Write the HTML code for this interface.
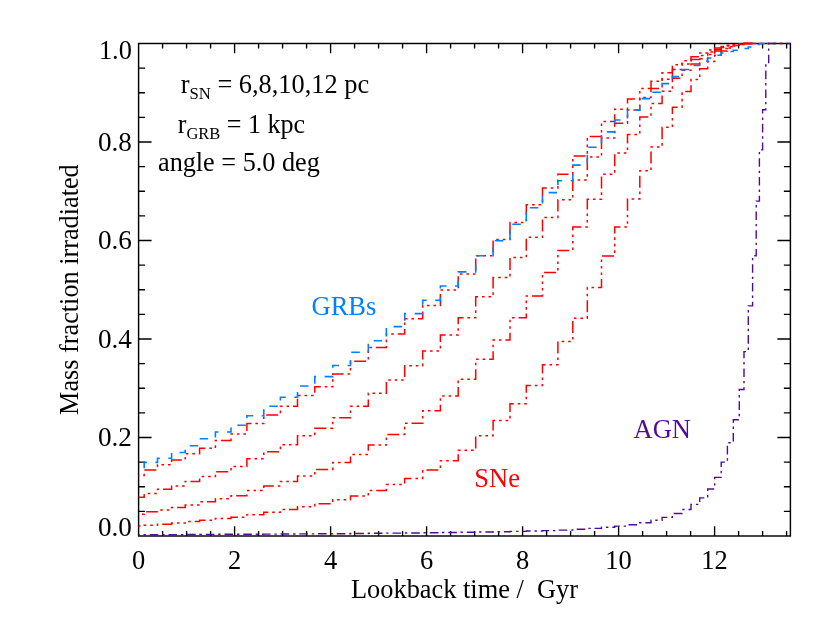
<!DOCTYPE html>
<html><head><meta charset="utf-8"><title>plot</title>
<style>
html,body{margin:0;padding:0;background:#fff;}
body{width:830px;height:624px;overflow:hidden;}
svg{display:block;will-change:transform;}
text{font-family:"Liberation Serif",serif;font-size:26.5px;fill:#000;}
.r{fill:none;stroke:#ff0000;stroke-width:1.5;stroke-dasharray:12 3.9 2.6 3.9 2.6 3.9 2.6 3.9;}
.b{fill:none;stroke:#0080ff;stroke-width:1.6;stroke-dasharray:8.5 8.5;}
.p{fill:none;stroke:#520a98;stroke-width:1.4;stroke-dasharray:8.6 3.9 2.4 3.9;}
</style></head><body>
<svg width="830" height="624" viewBox="0 0 830 624">
<rect width="830" height="624" fill="#fff"/>
<rect x="138.6" y="43.5" width="651.8" height="492.5" fill="none" stroke="#000" stroke-width="1.45"/>
<path d="M162.60 536.0v-4.9M162.60 43.5v4.9M186.60 536.0v-4.9M186.60 43.5v4.9M210.60 536.0v-4.9M210.60 43.5v4.9M234.60 536.0v-9.8M234.60 43.5v9.8M258.60 536.0v-4.9M258.60 43.5v4.9M282.60 536.0v-4.9M282.60 43.5v4.9M306.60 536.0v-4.9M306.60 43.5v4.9M330.60 536.0v-9.8M330.60 43.5v9.8M354.60 536.0v-4.9M354.60 43.5v4.9M378.60 536.0v-4.9M378.60 43.5v4.9M402.60 536.0v-4.9M402.60 43.5v4.9M426.60 536.0v-9.8M426.60 43.5v9.8M450.60 536.0v-4.9M450.60 43.5v4.9M474.60 536.0v-4.9M474.60 43.5v4.9M498.60 536.0v-4.9M498.60 43.5v4.9M522.60 536.0v-9.8M522.60 43.5v9.8M546.60 536.0v-4.9M546.60 43.5v4.9M570.60 536.0v-4.9M570.60 43.5v4.9M594.60 536.0v-4.9M594.60 43.5v4.9M618.60 536.0v-9.8M618.60 43.5v9.8M642.60 536.0v-4.9M642.60 43.5v4.9M666.60 536.0v-4.9M666.60 43.5v4.9M690.60 536.0v-4.9M690.60 43.5v4.9M714.60 536.0v-9.8M714.60 43.5v9.8M738.60 536.0v-4.9M738.60 43.5v4.9M762.60 536.0v-4.9M762.60 43.5v4.9M786.60 536.0v-4.9M786.60 43.5v4.9M138.6 511.38h6.5M790.4 511.38h-6.5M138.6 486.75h6.5M790.4 486.75h-6.5M138.6 462.12h6.5M790.4 462.12h-6.5M138.6 437.50h13.0M790.4 437.50h-13.0M138.6 412.88h6.5M790.4 412.88h-6.5M138.6 388.25h6.5M790.4 388.25h-6.5M138.6 363.62h6.5M790.4 363.62h-6.5M138.6 339.00h13.0M790.4 339.00h-13.0M138.6 314.38h6.5M790.4 314.38h-6.5M138.6 289.75h6.5M790.4 289.75h-6.5M138.6 265.12h6.5M790.4 265.12h-6.5M138.6 240.50h13.0M790.4 240.50h-13.0M138.6 215.88h6.5M790.4 215.88h-6.5M138.6 191.25h6.5M790.4 191.25h-6.5M138.6 166.62h6.5M790.4 166.62h-6.5M138.6 142.00h13.0M790.4 142.00h-13.0M138.6 117.37h6.5M790.4 117.37h-6.5M138.6 92.75h6.5M790.4 92.75h-6.5M138.6 68.12h6.5M790.4 68.12h-6.5" fill="none" stroke="#000" stroke-width="1.35"/>
<path class="r" d="M138.5 475.4H144.2V470.0H157.5V464.8H171.6V460.1H185.2V453.7H199.6V448.3H215.4V440.4H231.0V434.0H246.9V423.6H263.8V414.9H280.4V406.3H297.5V395.4H314.8V386.7H332.8V374.1H350.5V361.3H368.3V347.6H386.4V334.0H404.7V318.8H422.7V305.4H440.4V290.1H458.2V274.1H475.7V255.7H493.1V239.6H510.0V222.4H526.3V204.7H542.5V187.9H557.9V174.2H572.8V155.9H587.3V136.6H601.5V121.5H614.7V109.3H627.5V99.0H639.8V88.4H651.0V81.2H662.1V72.7H672.4V64.8H682.1V60.7H691.0V56.8H699.7V52.9H707.7V50.0H714.7V48.0H721.2V46.5H727.4V45.3H733.3V44.5H739.3V44.0H744.0V43.5H748.3H752.6H756.2H759.4H762.6H765.8H768.7H771.5H774.2H781.5" stroke-dashoffset="24.2"/>
<path class="r" d="M138.5 497.2H144.2V493.5H157.5V489.3H171.6V486.0H185.2V481.4H199.6V476.6H215.4V471.7H231.0V466.6H246.9V458.7H263.8V451.8H280.4V444.7H297.5V435.8H314.8V428.3H332.8V417.7H350.5V406.2H368.3V393.2H386.4V380.0H404.7V365.7H422.7V351.0H440.4V335.1H458.2V317.7H475.7V296.8H493.1V277.6H510.0V257.4H526.3V237.3H542.5V217.5H557.9V199.8H572.8V180.0H587.3V156.9H601.5V138.1H614.7V123.2H627.5V110.1H639.8V97.6H651.0V88.4H662.1V79.3H672.4V69.6H682.1V64.0H691.0V59.5H699.7V55.5H707.7V52.0H714.7V49.5H721.2V47.5H727.4V46.0H733.3V45.0H739.3V44.0H744.0V43.5H748.3H752.6" stroke-dashoffset="3"/>
<path class="r" d="M138.5 514.2H144.2V511.8H157.5V510.0H171.6V507.4H185.2V504.9H199.6V501.8H215.4V498.7H231.0V495.7H246.9V490.6H263.8V486.0H280.4V481.5H297.5V475.9H314.8V469.5H332.8V462.4H350.5V454.4H368.3V445.1H386.4V434.5H404.7V423.2H422.7V410.7H440.4V396.0H458.2V379.3H475.7V359.2H493.1V340.1H510.0V317.8H526.3V295.9H542.5V272.6H557.9V250.4H572.8V227.1H587.3V199.3H601.5V174.2H614.7V152.9H627.5V134.6H639.8V117.0H651.0V103.4H662.1V91.3H672.4V78.3H682.1V70.3H691.0V64.0H699.7V58.7H707.7V54.5H714.7V51.0H721.2V48.5H727.4V46.8H733.3V45.5H739.3V44.5H744.0V43.5H748.3H752.6" stroke-dashoffset="25.4"/>
<path class="r" d="M138.5 526.0H144.2V525.3H157.5V524.3H171.6V523.1H185.2V521.4H199.6V520.3H215.4V518.4H231.0V517.2H246.9V514.7H263.8V512.2H280.4V509.5H297.5V506.7H314.8V503.7H332.8V499.8H350.5V496.1H368.3V490.5H386.4V484.6H404.7V478.4H422.7V469.9H440.4V460.8H458.2V450.2H475.7V435.7H493.1V420.5H510.0V403.7H526.3V385.4H542.5V364.7H557.9V341.4H572.8V318.3H587.3V287.5H601.5V256.1H614.7V227.1H627.5V199.0H639.8V170.8H651.0V147.0H662.1V127.3H672.4V107.3H682.1V91.5H691.0V79.4H699.7V68.8H707.7V61.6H714.7V55.3H721.2V51.0H727.4V48.0H733.3V46.0H739.3V44.5H744.0V43.5H748.3H752.6" stroke-dashoffset="10.0"/>
<path class="b" d="M138.5 468.2H144.2V462.4H157.5V458.3H171.6V452.5H185.2V445.7H199.6V438.7H215.4V432.0H231.0V425.3H246.9V415.7H263.8V406.3H280.4V397.3H297.5V386.0H314.8V376.6H332.8V365.5H350.5V352.3H368.3V340.7H386.4V326.6H404.7V313.6H422.7V300.2H440.4V286.0H458.2V271.9H475.7V255.7H493.1V240.8H510.0V224.3H526.3V207.8H542.5V192.6H557.9V180.7H572.8V165.1H587.3V147.2H601.5V131.9H614.7V120.0H627.5V110.1H639.8V98.6H651.0V92.3H662.1V83.6H672.4V76.6H682.1V69.5H691.0V65.5H699.7V61.1H707.7V58.0H714.7V55.3H721.2V53.0H727.4V51.5H733.3V50.3H739.3V49.6H744.0V48.5H748.3V47.0H752.6V45.5H756.2V44.5H759.4V43.5H762.6H765.8H768.7H771.5H774.2H775.0" stroke-dashoffset="11.3"/>
<path class="p" d="M138.5 534.8H144.2V534.7H157.5V534.7H171.6V534.6H185.2V534.5H199.6V534.4H215.4V534.3H231.0V534.3H246.9V534.2H263.8V534.1H280.4V534.0H297.5V533.9H314.8V533.8H332.8V533.7H350.5V533.5H368.3V533.3H386.4V533.1H404.7V533.0H422.7V532.8H440.4V532.5H458.2V532.2H475.7V532.0H493.1V531.7H510.0V531.4H526.3V531.0H542.5V530.6H557.9V530.1H572.8V529.3H587.3V528.4H601.5V527.3H614.7V526.1H627.5V524.7H639.8V522.8H651.0V520.2H662.1V517.4H672.4V513.5H682.1V509.5H691.0V504.4H699.7V497.9H707.7V489.0H714.7V477.4H721.2V462.1H727.4V442.8H733.3V419.7H739.3V389.5H744.0V351.6H748.3V305.9H752.6V255.7H756.2V201.1H759.4V149.8H762.6V109.7H765.8V64.2H768.7V43.5H771.5H774.2H790.5" stroke-dashoffset="7.5"/>
<g><text x="138.6" y="568.6" text-anchor="middle">0</text><text x="234.6" y="568.6" text-anchor="middle">2</text><text x="330.6" y="568.6" text-anchor="middle">4</text><text x="426.6" y="568.6" text-anchor="middle">6</text><text x="522.6" y="568.6" text-anchor="middle">8</text><text x="618.6" y="568.6" text-anchor="middle">10</text><text x="714.6" y="568.6" text-anchor="middle">12</text></g>
<g><text x="131.9" y="536.0" text-anchor="end" textLength="34.0" lengthAdjust="spacingAndGlyphs">0.0</text><text x="131.9" y="446.4" text-anchor="end" textLength="34.0" lengthAdjust="spacingAndGlyphs">0.2</text><text x="131.9" y="347.9" text-anchor="end" textLength="34.0" lengthAdjust="spacingAndGlyphs">0.4</text><text x="131.9" y="249.4" text-anchor="end" textLength="34.0" lengthAdjust="spacingAndGlyphs">0.6</text><text x="131.9" y="150.9" text-anchor="end" textLength="34.0" lengthAdjust="spacingAndGlyphs">0.8</text><text x="131.9" y="58.8" text-anchor="end" textLength="33.0" lengthAdjust="spacingAndGlyphs">1.0</text></g>
<text x="464.5" y="597.9" text-anchor="middle" textLength="227" lengthAdjust="spacingAndGlyphs" xml:space="preserve">Lookback time /  Gyr</text>
<text transform="translate(77.7 289.6) rotate(-90)" text-anchor="middle" textLength="250.6" lengthAdjust="spacingAndGlyphs">Mass fraction irradiated</text>
<text x="180.7" y="93.1" textLength="188.4" lengthAdjust="spacingAndGlyphs">r<tspan font-size="16.8" dy="5.5">SN</tspan><tspan dy="-5.5"> = 6,8,10,12 pc</tspan></text>
<text x="177.7" y="133.2" textLength="127.5" lengthAdjust="spacingAndGlyphs">r<tspan font-size="16.8" dy="5.5">GRB</tspan><tspan dy="-5.5"> = 1 kpc</tspan></text>
<text x="158" y="170.9" textLength="161.8" lengthAdjust="spacingAndGlyphs">angle = 5.0 deg</text>
<text x="311.5" y="314.7" style="fill:#0080ff">GRBs</text>
<text x="474.3" y="486.7" style="fill:#ff0000">SNe</text>
<text x="633.6" y="437.9" style="fill:#520a98">AGN</text>
</svg>
</body></html>
